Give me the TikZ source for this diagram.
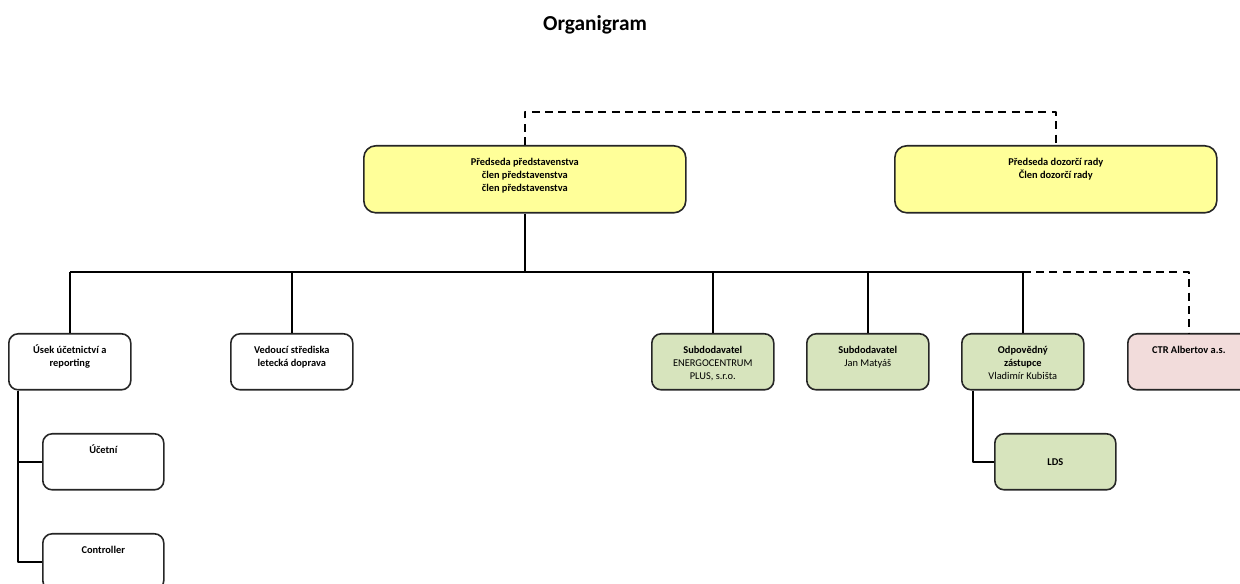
\documentclass[tikz,border=0pt]{standalone}
\usepackage{fontspec}
\setmainfont{Carlito}
\usepackage{tikz}

\definecolor{orgyellow}{HTML}{FFFF99}
\definecolor{orggreen}{HTML}{D7E4BD}
\definecolor{orgpink}{HTML}{F2DCDB}
\newcommand{\boxtxt}[3]{\parbox[c][#2][t]{#1}{\centering\rule{0pt}{15pt}#3}}

\begin{document}
\begin{tikzpicture}[line join=round,x=0.75pt,y=-0.75pt,line width=1.2pt,
  org/.style={draw=black!85,fill=white,rounded corners=7pt,inner sep=0pt,anchor=north west,
    font=\fontsize{7.8}{9.75}\selectfont\bfseries},
  board/.style={org,fill=orgyellow,rounded corners=9pt},
  supplier/.style={org,fill=orggreen},
  partner/.style={org,fill=orgpink},
  link/.style={dash pattern=on 6pt off 4pt}]
  \clip (0,0) rectangle (1240,584);

  \node[font=\fontsize{16}{19}\selectfont\bfseries] (title) at (595,25) {Organigram};

  % vedeni
  \node[board] (bd) at (363,145) {\boxtxt{241.5pt}{50.25pt}{Předseda představenstva\\člen představenstva\\člen představenstva}};
  \node[board] (dr) at (894,145) {\boxtxt{241.5pt}{50.25pt}{Předseda dozorčí rady\\Člen dozorčí rady}};

  % druha uroven
  \node[org] (usek) at (8,333) {\boxtxt{91.5pt}{42pt}{Úsek účetnictví a\\reporting}};
  \node[org] (ved) at (230,333) {\boxtxt{91.5pt}{42pt}{Vedoucí střediska\\letecká doprava}};
  \node[supplier] (energo) at (651,333) {\boxtxt{91.5pt}{42pt}{Subdodavatel\\\mdseries ENERGOCENTRUM\\\mdseries PLUS, s.r.o.}};
  \node[supplier] (jan) at (806,333) {\boxtxt{91.5pt}{42pt}{Subdodavatel\\\mdseries Jan Matyáš}};
  \node[supplier] (odp) at (961,333) {\boxtxt{91.5pt}{42pt}{Odpovědný\\zástupce\\\mdseries Vladimír Kubišta}};
  \node[partner] (ctr) at (1127,333) {\boxtxt{91.5pt}{42pt}{CTR Albertov a.s.}};

  % treti uroven
  \node[org] (uct) at (42,433) {\boxtxt{90.75pt}{42pt}{Účetní}};
  \node[org] (ctrl) at (42,533) {\boxtxt{90.75pt}{42pt}{Controller}};
  \node[supplier,minimum width=90.75pt,minimum height=42pt] (lds) at (994,433) {LDS};

  \coordinate (dtop) at (790,112);
  \coordinate (bus) at (0,272);
  \coordinate (uline) at (18,0);
  \coordinate (oline) at (973,0);

  \draw[link] (bd.north) -- (bd.north |- dtop) -| (dr.north);
  \draw (bd.south) -- (bd.south |- bus);
  \draw (usek.north |- bus) -- (odp.north |- bus);
  \foreach \n in {usek,ved,energo,jan,odp}
    \draw (\n.north) -- (\n.north |- bus);
  \draw[link] (odp.north |- bus) -| (ctr.north);

  \draw (uline |- usek.south) -- (uline |- ctrl.west) -- (ctrl.west);
  \draw (uline |- uct.west) -- (uct.west);
  \draw (oline |- odp.south) -- (oline |- lds.west) -- (lds.west);
\end{tikzpicture}
\end{document}
